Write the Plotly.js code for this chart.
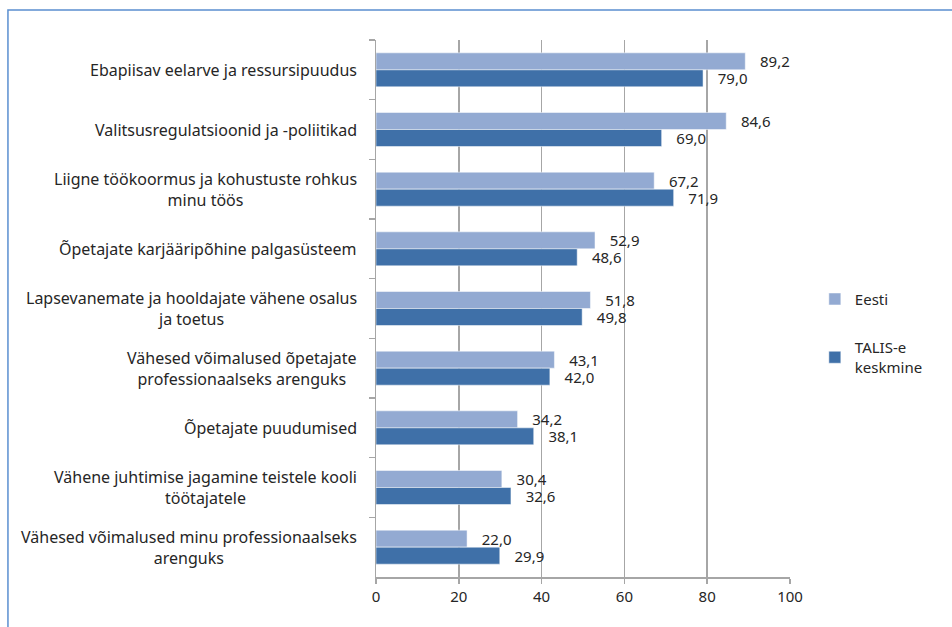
<!DOCTYPE html>
<html>
<head>
<meta charset="utf-8">
<script src="https://cdn.plot.ly/plotly-3.0.1.min.js"></script>
<style>
html,body{margin:0;padding:0;background:#fff;}
#chart{width:952px;height:627px;}
</style>
</head>
<body>
<div id="chart"></div>
<script>
const categories = [
  "Ebapiisav eelarve ja ressursipuudus",
  "Valitsusregulatsioonid ja -poliitikad",
  "Liigne töökoormus ja kohustuste rohkus<br>minu töös",
  "Õpetajate karjääripõhine palgasüsteem",
  "Lapsevanemate ja hooldajate vähene osalus<br>ja toetus",
  "Vähesed võimalused õpetajate<br>professionaalseks arenguks",
  "Õpetajate puudumised",
  "Vähene juhtimise jagamine teistele kooli<br>töötajatele",
  "Vähesed võimalused minu professionaalseks<br>arenguks"
];
const eesti = [89.2, 84.6, 67.2, 52.9, 51.8, 43.1, 34.2, 30.4, 22.0];
const talis = [79.0, 69.0, 71.9, 48.6, 49.8, 42.0, 38.1, 32.6, 29.9];
const seriesNames = ["Eesti", "TALIS-e<br>keskmine"];
const xTicks = [0, 20, 40, 60, 80, 100];

const FONT = "'Noto Sans', 'Open Sans', sans-serif";
const TXT = "#262626";
const pad = "\u00a0\u00a0\u00a0";

const traces = [
  {
    type: "bar", orientation: "h", name: seriesNames[0],
    x: eesti, y: categories, legendgroup: "a",
    marker: {color: "#93AAD2", line: {color: "#ffffff", width: 0.5}},
    texttemplate: pad + "%{x:.1f}", textposition: "outside",
    constraintext: "none", cliponaxis: false,
    textfont: {family: FONT, size: 15, color: TXT},
    hoverinfo: "x+y"
  },
  {
    type: "bar", orientation: "h", name: seriesNames[1],
    x: talis, y: categories, legendgroup: "b",
    marker: {color: "#3F70A8", line: {color: "#ffffff", width: 0.5}},
    texttemplate: pad + "%{x:.1f}", textposition: "outside",
    constraintext: "none", cliponaxis: false,
    textfont: {family: FONT, size: 15, color: TXT},
    hoverinfo: "x+y"
  }
];

const annotations = categories.map(c => ({
  xref: "paper", yref: "y", x: 0, y: c, xanchor: "right", yanchor: "middle",
  xshift: -17, text: c, align: "center", showarrow: false,
  font: {family: FONT, size: 16, color: TXT}
}));

const layout = {
  width: 952, height: 627,
  margin: {l: 376, r: 162, t: 40, b: 50},
  paper_bgcolor: "#ffffff", plot_bgcolor: "#ffffff",
  separators: ", ",
  font: {family: FONT, size: 15, color: TXT},
  barmode: "group", bargap: 0.43, bargroupgap: 0,
  showlegend: true,
  legend: {
    x: 1.06, y: 0.548, xanchor: "left", yanchor: "top",
    traceorder: "grouped", tracegroupgap: 26,
    font: {family: FONT, size: 15, color: TXT},
    bgcolor: "rgba(0,0,0,0)"
  },
  xaxis: {
    range: [0, 100], tickvals: xTicks, ticktext: xTicks.map(String),
    showgrid: true, gridcolor: "#A6A6A6", gridwidth: 1.8,
    zeroline: false, showline: true, linecolor: "#A6A6A6", linewidth: 1.5,
    ticks: "outside", ticklen: 5, tickcolor: "#A6A6A6", tickwidth: 1.5,
    tickfont: {family: FONT, size: 15, color: TXT}, fixedrange: true
  },
  yaxis: {
    type: "category", categoryorder: "array", categoryarray: categories,
    autorange: "reversed", showticklabels: false,
    showgrid: false, zeroline: false, showline: true, linecolor: "#A6A6A6", linewidth: 1.5,
    ticks: "outside", tickson: "boundaries", ticklen: 6, tickcolor: "#A6A6A6", tickwidth: 1.5,
    fixedrange: true
  },
  annotations: annotations,
  shapes: [{
    type: "rect", xref: "paper", yref: "paper",
    x0: -0.889, x1: 1.45, y0: -0.15, y1: 1.056,
    line: {color: "#5B8FD0", width: 1.5}, fillcolor: "rgba(0,0,0,0)", layer: "below"
  }]
};

Plotly.newPlot("chart", traces, layout, {displayModeBar: false, staticPlot: true});
</script>
</body>
</html>
